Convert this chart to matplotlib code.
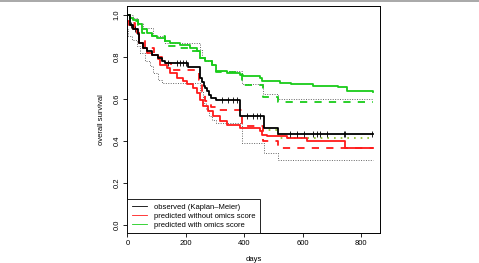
import matplotlib
matplotlib.use("Agg")
import matplotlib.pyplot as plt
from matplotlib.lines import Line2D
import numpy as np

plt.rcParams['font.family'] = ['Liberation Sans', 'DejaVu Sans']

# observed Kaplan-Meier
km_t = [0, 10, 20, 35, 41, 55, 66, 83, 106, 118, 129, 209, 249, 255, 262, 266, 272, 279, 285, 304, 386, 469, 515, 841]
km_s = [1.0, 0.95, 0.93, 0.91, 0.866, 0.843, 0.826, 0.81, 0.795, 0.782, 0.768, 0.75, 0.70, 0.679, 0.663, 0.652,
        0.636, 0.62, 0.605, 0.593, 0.516, 0.461, 0.432, 0.432]
cens_t = [12, 25, 140, 169, 180, 192, 201, 323, 346, 363, 374, 409, 431, 443, 454,
          557, 580, 605, 637, 648, 660, 683, 740, 746, 837]

# 95% confidence band
up_t = [0, 20, 38, 55, 88, 129, 249, 255, 266, 289, 304, 392, 465, 515, 841]
up_s = [1.0, 0.985, 0.96, 0.935, 0.90, 0.866, 0.83, 0.80, 0.78, 0.765, 0.734, 0.668, 0.625, 0.60, 0.60]
lo_t = [0, 3, 15, 32, 43, 61, 78, 89, 106, 118, 249, 258, 268, 280, 290, 304, 392, 469, 515, 841]
lo_s = [0.93, 0.90, 0.88, 0.85, 0.82, 0.78, 0.755, 0.723, 0.691, 0.676, 0.63, 0.58, 0.55, 0.52, 0.50,
        0.485, 0.392, 0.342, 0.309, 0.309]

# predicted with omics score
gs_t = [0, 9, 21, 38, 49, 66, 83, 101, 129, 146, 180, 215, 237, 249, 266, 289, 304, 340, 386, 397, 454,
        460, 523, 560, 600, 637, 680, 720, 751, 841]
gs_s = [1.0, 0.985, 0.975, 0.954, 0.93, 0.914, 0.90, 0.89, 0.874, 0.866, 0.858, 0.843, 0.827, 0.795, 0.779,
        0.763, 0.731, 0.723, 0.715, 0.707, 0.70, 0.684, 0.676, 0.672, 0.668, 0.663, 0.659, 0.655, 0.636, 0.631]
gd_t = [0, 9, 38, 49, 83, 129, 180, 215, 249, 266, 289, 304, 392, 465, 515, 841]
gd_s = [1.0, 0.97, 0.94, 0.915, 0.90, 0.85, 0.843, 0.827, 0.795, 0.779, 0.763, 0.728, 0.664, 0.608, 0.587, 0.587]

# predicted without omics score
rs_t = [0, 5, 21, 32, 41, 52, 66, 83, 106, 112, 135, 146, 169, 192, 203, 226, 237, 249, 260, 277, 294,
        317, 340, 386, 454, 460, 477, 546, 614, 746, 841]
rs_s = [0.97, 0.95, 0.93, 0.914, 0.866, 0.843, 0.819, 0.81, 0.787, 0.763, 0.747, 0.723, 0.70, 0.684,
        0.668, 0.652, 0.628, 0.596, 0.564, 0.54, 0.516, 0.493, 0.477, 0.461, 0.445, 0.429, 0.421, 0.413,
        0.397, 0.366, 0.366]
rd_t = [0, 10, 25, 40, 60, 90, 120, 150, 245, 255, 265, 285, 304, 392, 465, 515, 841]
rd_s = [1.0, 0.96, 0.93, 0.88, 0.84, 0.80, 0.77, 0.735, 0.69, 0.63, 0.59, 0.56, 0.545, 0.47, 0.397,
        0.366, 0.366]

gdot_t = [460, 515, 841]
gdot_s = [0.45, 0.413, 0.413]

green = '#19cc19'
red = '#ff1a1a'

fig = plt.figure(figsize=(4.79, 2.63), dpi=100)
ax = fig.add_axes([0.2658, 0.1129, 0.794 - 0.2658, 0.976 - 0.1129])

ax.step(up_t, up_s, where='post', color='#666666', ls=(0, (1, 1.5)), lw=0.7)
ax.step(lo_t, lo_s, where='post', color='#666666', ls=(0, (1, 1.5)), lw=0.7)
ax.step(gdot_t, gdot_s, where='post', color='#88bb22', ls=(0, (1, 3)), lw=1.2)
ax.step(rd_t, rd_s, where='post', color=red, ls=(0, (4, 4)), lw=1.3)
ax.step(gd_t, gd_s, where='post', color=green, ls=(0, (4, 4)), lw=1.3)
ax.step(rs_t, rs_s, where='post', color=red, lw=1.3)
ax.step(gs_t, gs_s, where='post', color=green, lw=1.3)
ax.step(km_t, km_s, where='post', color='black', lw=1.3)

idx = np.searchsorted(km_t, cens_t, side='right') - 1
ax.plot(cens_t, np.array(km_s)[idx], ls='none', marker='|', ms=4, mew=0.6, color='black')

ax.set_xlim(0, 866)
ax.set_ylim(-0.04, 1.04)
ax.set_xticks([0, 200, 400, 600, 800])
ax.set_yticks([0.0, 0.2, 0.4, 0.6, 0.8, 1.0])
ax.set_yticklabels(['0.0', '0.2', '0.4', '0.6', '0.8', '1.0'], rotation=90, va='center')
ax.tick_params(labelsize=5.5, length=3, width=0.6, pad=2)
for s in ax.spines.values():
    s.set_linewidth(0.7)
ax.set_xlabel('days', fontsize=5.5, labelpad=6)
ax.set_ylabel('overall survival', fontsize=5.5, labelpad=6)

handles = [Line2D([], [], color='black', lw=0.6),
           Line2D([], [], color=red, lw=0.6),
           Line2D([], [], color=green, lw=0.6)]
leg = ax.legend(handles, ['observed (Kaplan\u2013Meier)', 'predicted without omics score',
                          'predicted with omics score'],
                loc='lower left', bbox_to_anchor=(0, 0), borderaxespad=0, fontsize=5.5,
                fancybox=False, framealpha=1, edgecolor='black', handlelength=2.0,
                labelspacing=0.2, borderpad=0.6, handletextpad=0.9)
leg.get_frame().set_linewidth(0.6)

fig.add_artist(Line2D([0, 1], [0.997, 0.997], color='#999999', lw=1.2, transform=fig.transFigure))

fig.savefig('out.png', dpi=100)
